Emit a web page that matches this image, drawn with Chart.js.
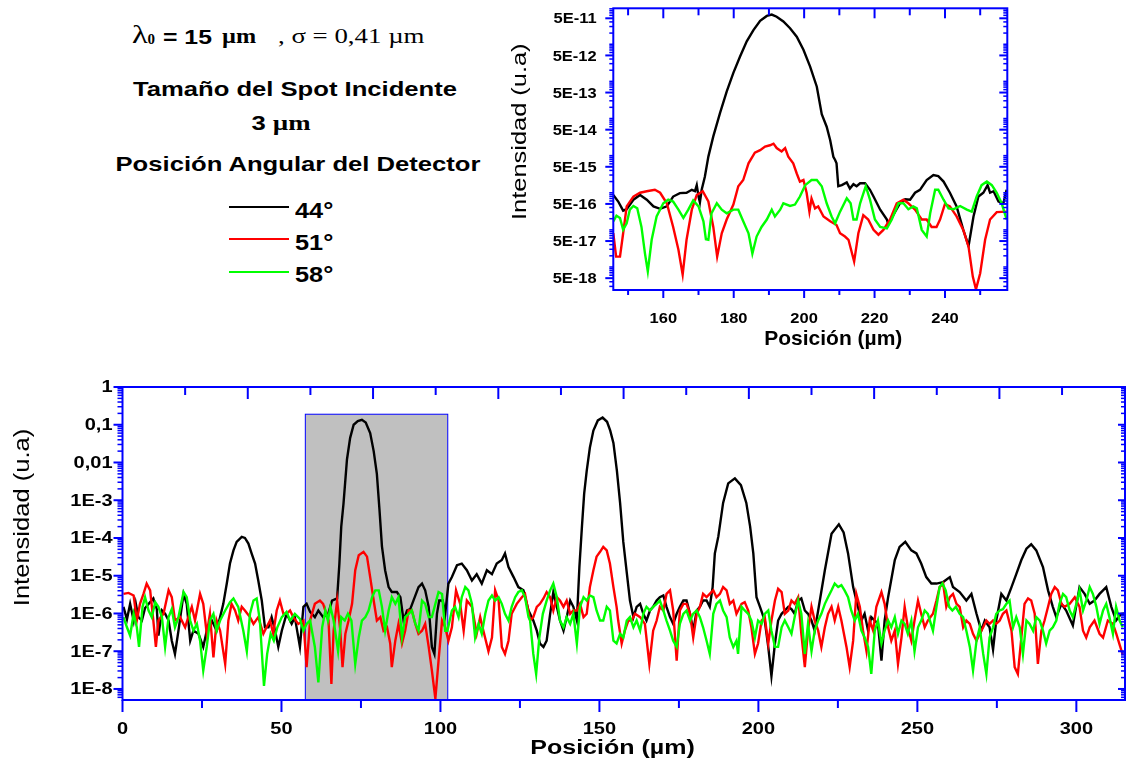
<!DOCTYPE html>
<html>
<head>
<meta charset="utf-8">
<script src="https://cdn.jsdelivr.net/npm/chart.js@4/dist/chart.umd.min.js"></script>
<style>
  body { margin: 0; background: #fff; width: 1126px; height: 762px; overflow: hidden; position: relative; }
  canvas { position: absolute; }
  .t { position: absolute; white-space: nowrap; line-height: 1; color: #000; transform-origin: 0 50%; }
  .sans { font-family: "Liberation Sans", Arial, sans-serif; font-weight: bold; }
  .serif { font-family: "Liberation Serif", "Times New Roman", serif; }
  .c { width: 600px; text-align: center; font: bold 21px "Liberation Sans", Arial, sans-serif; transform: scaleX(1.22); transform-origin: 50% 50%; }
  .mu { font: bold 22px "Liberation Serif", "Times New Roman", serif; }
  .lg { position: absolute; left: 229px; width: 60px; height: 2px; }
  .lab { left: 295px; font: bold 22px "Liberation Sans", Arial, sans-serif; transform: scaleX(1.15); }
</style>
</head>
<body>
<div class="t serif" style="left:132px;top:22px;font-size:25px;transform:scaleX(1.3)">λ</div>
<div class="t serif" style="left:147.5px;top:32px;font-size:15px;font-weight:bold">0</div>
<div class="t sans" style="left:163px;top:25.5px;font-size:21px;transform:scaleX(1.18)">= 15</div>
<div class="t serif" style="left:222px;top:25px;font-size:22px;font-weight:bold;transform:scaleX(1.1)">µm</div>
<div class="t serif" style="left:278px;top:25px;font-size:22px;transform:scaleX(1.22)">, σ = 0,41 µm</div>

<div class="t c" style="left:-5.5px;top:77px">Tamaño del Spot Incidente</div>
<div class="t c" style="left:-19.5px;top:109.5px">3 <span class="mu">µm</span></div>
<div class="t c" style="left:-2.5px;top:152px">Posición Angular del Detector</div>

<div class="lg" style="top:206px;background:#000000"></div>
<div class="lg" style="top:238px;background:#ff0000"></div>
<div class="lg" style="top:270.5px;background:#00ff00"></div>
<div class="t lab" style="top:197.5px">44°</div>
<div class="t lab" style="top:229.5px">51°</div>
<div class="t lab" style="top:261.5px">58°</div>

<canvas id="inset" width="520" height="350" style="left:500px;top:0"></canvas>
<canvas id="main" width="1126" height="392" style="left:0;top:370px"></canvas>

<script>
// ---- main panel: intensity vs position (µm) ----
const pos44 = [0.3,1.4,2.4,3.5,4.2,5,6.1,7.1,8.7,9.7,10.8,11.3,12.4,13.4,14.5,15.5,16.5,17.6,19.2,20.2,
  21.3,22.3,23.9,25.4,26.5,28.1,29.6,30.7,31.7,32.8,33.8,34.9,35.9,37.5,38.5,39.6,40.6,41.7,42.7,43.8,
  44.8,45.9,46.9,48,49,50.1,51.6,53.2,54.2,55.8,56.9,57.9,59,60.5,61.6,63.1,64.7,65.9,67.5,68.2,
  68.8,69.5,70.6,71.6,72.7,74,75.3,76.5,77.9,79,80,80.8,81.6,82.6,83.7,84.7,86.3,87.4,88.4,89.5,
  90.5,91.5,93.1,94.2,95.2,96.3,97.3,98.1,98.9,99.6,100.7,101.5,102.5,103.6,105.2,106.7,108.3,109.9,111.4,113,
  114.6,116.2,117.7,119.3,120.3,121.4,123,124.5,126.1,127.7,
  129.2,130.3,131.3,132.4,133.4,134.5,135.5,136.6,137.6,138.7,139.7,140.8,141.8,142.9,143.7,144.5,145.2,146,147,148.1,
  149.5,151,152.4,153.4,154.4,155.5,156.5,157.5,158.6,159.6,160.7,161.7,162.8,163.8,164.8,165.9,166.9,168,169,170.1,
  171.1,172.2,173.2,174.3,175.3,176.4,177.4,178.5,179.5,180.6,181.6,182.6,183.7,184.7,185.6,186.3,187.4,188.9,190.5,192.6,
  194.5,196.2,197.4,198.4,199.4,200.5,202,203.1,204.1,205.2,206.2,207.3,208.3,209.4,210.4,211.4,212.5,213.5,214.6,215.6,
  216.7,217.7,218.8,220.9,223,225.3,226.8,228.2,229.8,231.3,232.4,233.4,234.5,235.5,236.6,237.6,238.7,239.7,240.8,242.9,
  244.4,246.2,248.1,249.7,251.2,252.8,254.4,256,258.1,260.2,261.2,263.3,265.4,267,268.6,270.1,271.2,272.7,273.8,274.8,
  276.4,278,279.6,281.1,282.7,284.3,285.8,287.4,289.5,291.1,292.6,293.7,295.3,296.8,298.9,301,302.6,304.2,305.7,307.3,
  309.4,311,312.5,314.1,315.3];
const int44 = [1.5e-6,7e-7,1.8e-6,6.5e-7,1.8e-6,8e-7,6.5e-7,1.4e-6,2e-6,2.5e-6,1.3e-6,2.6e-7,1.2e-6,9.8e-7,6.5e-7,1.9e-7,8.5e-8,3.5e-7,3.3e-6,1.8e-6,
  1.9e-7,3.5e-7,2.9e-7,1.3e-7,3.5e-7,6.5e-7,3.5e-7,8e-7,1.8e-6,6.2e-6,2.1e-5,4.7e-5,7.9e-5,1.07e-4,1e-4,7.1e-5,3.9e-5,2.1e-5,7.5e-6,2.2e-6,
  4.3e-7,4.3e-7,8e-7,3.5e-7,1.3e-7,3.5e-7,9.8e-7,5.3e-7,8e-7,1.3e-7,1.5e-6,1.8e-6,1.1e-6,8e-7,1.2e-6,8e-7,9.8e-7,2.2e-6,2.5e-6,2e-5,
  2e-4,8e-4,0.012,0.045,0.1,0.125,0.135,0.115,0.06,0.02,5e-3,6e-4,6e-5,1.4e-5,5e-6,3.7e-6,3.7e-6,2.7e-6,6.5e-7,1.2e-6,
  1.3e-6,2.2e-6,5e-6,6.2e-6,4.1e-6,1.5e-6,1.3e-7,8.5e-8,9.8e-7,2.2e-6,2.2e-6,9.8e-7,6.2e-6,9.2e-6,1.9e-5,2.1e-5,1.4e-5,7.5e-6,1.1e-5,6.2e-6,
  1.4e-5,1.1e-5,2.1e-5,2.6e-5,3.9e-5,1.7e-5,9.2e-6,5e-6,4.1e-6,1.2e-6,
  6.5e-7,3.5e-7,1.6e-7,1.3e-7,1.9e-7,9.8e-7,3.7e-6,1.5e-6,6.5e-7,3.5e-7,8e-7,2.2e-6,1.5e-6,6.5e-7,1.7e-5,2e-4,1.5e-3,6e-3,0.025,0.07,
  0.13,0.155,0.12,0.07,0.033,6e-3,8.5e-4,8e-5,1.2e-5,2.2e-6,8e-7,1.5e-6,1.8e-6,9.8e-7,6.5e-7,1.2e-6,1.5e-6,2.2e-6,2.7e-6,3e-6,
  1.5e-6,8e-7,5.3e-7,9.8e-7,1.5e-6,2.2e-6,2.2e-6,9.8e-7,3.5e-7,1.2e-6,1.5e-6,2.2e-6,2.2e-6,1.5e-6,5e-6,3.9e-5,1.1e-4,8.5e-4,2.8e-3,3.8e-3,
  2.5e-3,8.5e-4,2e-4,3.9e-5,2.7e-6,1.5e-6,6.5e-7,1.3e-7,2.2e-8,1.6e-7,6.5e-7,9.8e-7,1.2e-6,1.5e-6,1.3e-6,9.8e-7,2.2e-6,2.5e-6,1.2e-6,9.8e-7,
  6.5e-7,3.5e-7,1.2e-6,1.4e-5,1.3e-4,2.3e-4,1.4e-4,3.9e-5,5e-6,1.5e-6,6.5e-7,9.8e-7,3.5e-7,8e-7,6.5e-7,5.3e-7,5.6e-8,6.5e-7,2.7e-6,2.6e-5,
  5.8e-5,7.9e-5,4.7e-5,3.9e-5,2.1e-5,9.2e-6,6.2e-6,6.2e-6,6.8e-6,9.2e-6,5e-6,3.7e-6,2.2e-6,3.3e-6,9.8e-7,3.5e-7,6.5e-7,4.3e-7,1.1e-7,6.5e-7,
  3.3e-6,2.2e-6,5e-6,1.1e-5,2.6e-5,5.2e-5,6.8e-5,4.7e-5,1.7e-5,4.1e-6,1.5e-6,8e-7,1.8e-6,1.2e-6,4.8e-7,5e-6,3.3e-6,1.8e-6,2.2e-6,3.3e-6,
  5e-6,1.5e-6,6.5e-7,9.8e-7,1e-6];

const pos51 = [0.3,1.9,3.5,4.5,5.5,6.6,7.6,8.7,9.7,10.5,11.3,12.9,14.5,15.5,16.5,18.1,19.7,20.7,21.8,22.8,
  24.4,25.4,26.5,27.5,28.6,29.6,30.7,32.3,33.3,34.3,35.4,36.4,37.5,38.5,40.1,41.2,42.7,44.3,45.3,46.4,
  47.4,48.5,49.5,50.6,51.6,52.7,53.7,55.3,56.9,57.9,59,60.5,62.1,63.1,
  64.8,65.7,66.4,67.5,68.5,69.2,70.1,71.1,72.2,73.2,74.3,75.8,76.9,77.9,79,80,81.1,82.1,83.2,84.2,
  84.7,85.8,86.8,87.9,88.9,90,91,92.1,93.1,94.2,95.2,96.3,97.3,98.4,99.4,100.5,101.5,102.5,103.6,104.9,
  106.2,107.3,108.3,109.9,111.4,112.5,113.5,115.1,116.2,117.2,118.3,119.3,120.3,121.4,122.4,124,125.6,126.6,
  128.2,129.2,130.3,131.3,132.4,133.4,134.5,135.5,136.6,137.6,138.7,139.7,140.8,141.8,142.9,143.9,145,146,147,148.1,
  149.1,150.2,151.2,152.3,153.3,154.4,155.4,155.9,157,158,159.1,160.1,161.2,162.8,164.3,165.7,166.9,168,169,170.1,
  171.1,172.2,173.2,174.3,175.3,176.4,177.4,178.5,179.5,180.6,181.6,182.6,183.7,184.7,185.8,186.8,187.9,188.9,190,191,
  192.1,193.1,
  194.7,195.7,196.8,197.8,198.9,199.9,201,202,203.1,204.1,205.2,206.2,207.3,208.3,209.4,210.4,211.4,212.5,213.5,214.6,
  215.6,216.7,217.7,218.8,219.8,220.9,221.9,223,224,225.1,226.1,227.7,228.7,229.8,230.8,231.9,232.9,234,235,236.1,
  237.1,238.7,239.7,240.8,241.8,242.9,243.9,245,246,247,248.1,249.1,250.2,251.2,252.3,253.3,
  254.9,256,257,258.1,259.1,260.2,261.2,262.3,263.3,264.4,265.4,266.5,267.5,268.6,269.6,270.7,271.7,272.7,273.8,274.8,
  275.9,276.9,278,279.6,280.6,281.6,282.7,283.7,284.8,285.8,286.9,287.9,289,290,291.1,292.1,293.2,294.2,295.3,296.3,
  297.9,299.5,301,302.1,303.1,304.2,305.7,307.3,308.4,309.9,311.5,312.5,313.6,314.6];
const int51 = [3.3e-6,3.5e-6,3e-6,6.5e-7,1.8e-6,3.3e-6,6.2e-6,4.1e-6,6.5e-7,1.3e-7,6.5e-7,9.8e-7,4.1e-6,2.7e-6,6.5e-7,8e-7,4.3e-7,8e-7,1.5e-6,6.5e-7,
  3.3e-6,1.8e-6,2.9e-7,9.8e-7,6.9e-8,6.5e-7,3.5e-7,4.6e-8,6.5e-7,1.8e-6,1.2e-6,6.5e-7,1.5e-6,1.2e-6,8e-7,5.3e-7,8e-7,2.9e-7,4.3e-7,6.5e-7,
  2.9e-7,1.2e-6,2.2e-6,9.8e-7,9.8e-7,1.2e-6,8e-7,5.3e-7,6.5e-7,3.8e-8,6.5e-7,1.8e-6,2.2e-6,1.8e-6,
  6.5e-7,1.35e-8,3.5e-7,2.2e-6,3.5e-7,3.8e-8,2.9e-7,6.5e-7,1.8e-6,1.4e-5,3.5e-5,4.3e-5,3.2e-5,9.2e-6,2.2e-6,6.5e-7,8e-7,3.5e-7,4.3e-7,1.6e-7,
  3.8e-8,1.9e-7,5.3e-7,1.6e-7,3.5e-7,1.2e-6,1.2e-6,5.3e-7,2.9e-7,3.5e-7,5.3e-7,1.3e-7,3.1e-8,5.5e-9,5.6e-8,6.5e-7,4.3e-7,1.9e-7,4.3e-7,4.1e-6,
  1.8e-6,3.5e-7,2.2e-6,1.5e-6,2.9e-7,8e-7,3.5e-7,1e-7,2.3e-7,4.1e-6,2.2e-6,1.3e-7,8.5e-8,1.9e-7,9.8e-7,1.8e-6,2.7e-6,3.3e-6,
  6.5e-7,8e-7,1.5e-6,1.8e-6,2.5e-6,3.7e-6,2.7e-6,1.2e-6,2.7e-6,2.2e-6,1.5e-6,2.2e-6,9.8e-7,1.2e-6,1.2e-6,1.8e-6,8e-7,9.8e-7,5e-6,1.4e-5,
  3.2e-5,4.3e-5,5.8e-5,4.7e-5,2.1e-5,5e-6,1.5e-6,6.5e-7,1.6e-7,3.5e-7,6.5e-7,6.5e-7,9.8e-7,8e-7,5.3e-7,4.6e-8,3.5e-7,6.5e-7,1.5e-6,1.2e-6,
  3.3e-6,4.1e-6,1.2e-6,5.6e-8,1.2e-6,1.8e-6,1.8e-6,9.8e-7,2.3e-7,9.8e-7,1.5e-6,3.3e-6,2.7e-6,3.3e-6,4.1e-6,2.7e-6,3.3e-6,5e-6,4.1e-6,1.8e-6,
  2.2e-6,9.8e-7,
  1.8e-6,2e-6,1.2e-6,4.3e-7,8.5e-8,1.6e-7,6.5e-7,8e-7,1.6e-7,6.5e-7,2.2e-6,4.5e-6,3.7e-6,9.8e-7,1.2e-6,2.2e-6,1.8e-6,2.7e-6,2.9e-7,3.8e-8,
  3.5e-7,1.5e-6,6.5e-7,3.5e-7,1.3e-7,4.3e-7,9.8e-7,1.5e-6,6.5e-7,1.5e-6,6.5e-7,1.3e-7,3.8e-8,1.9e-7,3.3e-6,1.5e-6,3.5e-7,1e-7,6.5e-7,3.5e-7,
  1.5e-6,3.7e-6,1.8e-6,4.3e-7,1.9e-7,3.5e-7,4.6e-8,2.3e-7,1.5e-6,4.3e-7,1.9e-7,6.5e-7,2.2e-6,9.8e-7,4.3e-7,6.5e-7,
  9.8e-7,2.2e-6,5e-6,6.2e-6,1.5e-6,2.7e-6,3.3e-6,1.8e-6,1.5e-6,4.3e-7,6.5e-7,5.3e-7,2.9e-7,1.9e-7,2.9e-7,4.3e-7,6.5e-7,5.3e-7,6.5e-7,5.3e-7,
  6.5e-7,9.8e-7,1.2e-6,3.5e-7,3.8e-8,2.5e-8,2.3e-7,1.8e-6,2.5e-6,2.2e-6,9.8e-7,4.6e-8,3.5e-7,6.5e-7,1.5e-6,3.3e-6,5e-6,4.1e-6,1.8e-6,1.5e-6,
  1.8e-6,2.7e-6,1.5e-6,3.5e-7,2.3e-7,4.3e-7,6.5e-7,2.9e-7,2.3e-7,6.5e-7,5.3e-7,3e-7,1.5e-7,8e-8];

const pos58 = [0.3,1.4,2.4,3.5,4.5,5.2,6.3,7.1,8.2,9.2,10.3,11.3,12.4,13.4,14.5,15.5,16.5,17.6,19.2,20.2,
  21.3,22.3,23.4,24.4,25.4,26.5,27.5,28.6,29.6,30.7,32.3,33.8,34.9,36.4,38,39.1,40.1,41.2,42.2,43.2,
  44.5,45.5,46.6,47.6,48.7,50.1,51.6,52.7,54.2,55.8,56.9,57.9,59,60.5,61.6,62.8,
  63.8,64.6,65.4,66.4,67.8,68.8,69.9,70.9,72,73.2,74.3,75.3,76.4,77.4,78.5,79.5,80.6,81.6,82.6,83.7,
  84.7,85.8,86.8,87.9,88.9,90,91,92.1,93.1,94.2,95.2,96.3,97.3,98.4,99.4,100.5,101.5,102.2,103.6,104.6,
  105.7,106.7,107.8,108.8,109.9,110.9,112,113,114.1,115.1,116.2,117.2,118.3,119.3,120.3,121.4,122.4,123.5,124.5,125.6,
  126.6,127.7,
  128.2,129.2,130.1,131.1,132.2,133.4,134.5,135.5,136.6,137.6,138.7,139.7,140.8,141.8,142.9,143.9,145,146,147,148.1,
  149.1,150.2,151.2,152.3,153.3,154.4,155.4,156.5,157.5,158.6,159.6,160.7,161.7,162.8,163.8,164.8,165.9,166.9,168,169,
  170.1,171.1,172.2,173.2,174.3,175.3,176.4,177.4,178.5,179.5,180.6,181.6,182.6,183.7,184.7,185.8,186.8,187.9,188.9,190,
  191,192.1,193.1,
  193.6,194.7,195.7,196.8,197.8,198.9,199.9,201,202,203.1,204.1,205.2,206.2,207.3,208.3,209.4,210.4,211.4,212.5,213.5,
  214.6,215.6,216.7,217.7,218.8,219.8,220.9,221.9,223,224,225.1,226.1,227.1,228.2,229.2,230.3,231.3,232.4,233.4,234.5,
  235.5,236.6,237.6,238.7,239.7,240.8,241.8,242.9,243.9,245,246,247,248.1,249.1,250.2,251.2,252.3,253.3,
  254.9,256,257,257.9,258.9,260,261,262.1,263.3,264.4,265.4,266.5,267.5,268.6,269.6,270.7,271.7,272.7,273.8,274.8,
  275.9,276.9,278,279,280.1,281.1,282.2,283.2,284.3,285.3,286.4,287.4,288.5,289.5,290.5,291.6,292.6,293.7,294.7,295.8,
  296.8,297.9,298.9,300,301,302.1,303.1,304.2,305.2,306.3,307.3,308.4,309.4,310.4,311.5,312.5,313.6,314.6];
const int58 = [8e-7,4.3e-7,2.6e-7,9.8e-7,4.3e-7,1.3e-7,1.5e-6,2.7e-6,1.2e-6,8e-7,2e-6,1.5e-6,8e-7,1.3e-7,8e-7,1.3e-6,4.3e-7,8e-7,3.7e-6,2.7e-6,
  6.5e-7,3.5e-7,5.3e-7,1.9e-7,3.1e-8,1.3e-7,6.5e-7,9.8e-7,3.5e-7,6.5e-7,1.2e-6,2e-6,2.5e-6,1.5e-6,3.5e-7,1e-7,9.8e-7,2.2e-6,2.5e-6,6.5e-7,
  1.2e-8,8.5e-8,2.9e-7,1.9e-7,4.3e-7,8e-7,1.1e-6,6.5e-7,9.8e-7,7.2e-7,3.5e-7,5.3e-7,6.5e-7,1.3e-7,1.5e-8,4.3e-7,
  1.2e-6,6.5e-7,1.5e-6,6.5e-7,1e-7,8e-7,6.5e-7,9.8e-7,6.5e-7,4.6e-8,2.3e-7,6.5e-7,8e-7,1.2e-6,2.7e-6,4.1e-6,4.1e-6,1.5e-6,3.5e-7,1.2e-6,
  2.7e-6,1.8e-6,2.7e-6,2.3e-7,8e-7,9.8e-7,1.2e-6,5.3e-7,3.5e-7,2.2e-6,1.8e-6,8e-7,8e-7,1.8e-6,3.7e-6,3.3e-6,3.5e-7,3.5e-7,1.2e-6,1.5e-6,
  8e-7,2.7e-6,5e-6,4.1e-6,1.8e-6,2.3e-7,5.3e-7,2.9e-7,9.8e-7,2.2e-6,3e-6,2.2e-6,2.7e-6,1.8e-6,9.8e-7,6.5e-7,1.5e-6,2.7e-6,3.7e-6,4.1e-6,
  2.7e-6,8e-7,
  6.5e-7,8.5e-8,2.5e-8,2.3e-7,9.8e-7,2.2e-6,4.1e-6,6.2e-6,2.7e-6,6.5e-7,4.3e-7,8e-7,5.3e-7,9.8e-7,1.6e-7,1.5e-6,2.7e-6,2.2e-6,3e-6,2.7e-6,
  1.2e-6,6.5e-7,6.5e-7,1.5e-6,1.2e-6,1.9e-7,1.6e-7,2.9e-7,2.3e-7,6.5e-7,8e-7,4.3e-7,6.5e-7,3.5e-7,9.8e-7,1.5e-6,1.2e-6,1.5e-6,1.8e-6,2.2e-6,
  1.2e-6,6.5e-7,3.5e-7,1.9e-7,1.3e-7,5.3e-7,9.8e-7,1.2e-6,6.5e-7,9.8e-7,1.2e-6,8e-7,4.3e-7,1.9e-7,8.5e-8,9.8e-7,1.8e-6,2.2e-6,1.2e-6,8e-7,
  2.3e-7,1.3e-7,1.9e-7,
  8.5e-8,1.5e-6,1.2e-6,9.8e-7,6.5e-7,2.3e-7,6.5e-7,5.3e-7,9.8e-7,1.2e-6,3.5e-7,1.3e-7,1.3e-7,4.3e-7,6.5e-7,4.3e-7,2.9e-7,8e-7,2.2e-6,9.8e-7,
  8.5e-8,5.3e-7,1e-7,3.5e-7,6.5e-7,9.8e-7,1.8e-6,2.7e-6,4.1e-6,6.2e-6,5e-6,5.6e-6,4.1e-6,2.7e-6,1.2e-6,6.5e-7,9.8e-7,3.5e-7,2.3e-7,1.3e-7,
  2.5e-8,3.5e-7,6.5e-7,1.6e-7,3.5e-7,6.5e-7,4.3e-7,8e-7,2.9e-7,6.5e-7,5.3e-7,2.9e-7,6.5e-7,1e-7,4.3e-7,6.5e-7,1.2e-6,9.8e-7,
  3.5e-7,1.5e-6,5e-6,6.2e-6,4.1e-6,1.5e-6,1.2e-6,1.5e-6,9.8e-7,8e-7,3.5e-7,1.3e-7,3.1e-8,1.9e-7,4.3e-7,8.5e-8,2.5e-8,2.3e-7,4.3e-7,9.8e-7,
  1.2e-6,1.3e-6,1.8e-6,2.2e-6,4.3e-7,8e-7,4.3e-7,8.5e-8,6.5e-7,5.3e-7,3.5e-7,8e-7,6.5e-7,3.5e-7,1.6e-7,3.5e-7,4.3e-7,6.5e-7,1.8e-6,3.3e-6,
  2.7e-6,1.2e-6,8e-7,1.8e-6,4.1e-6,1.2e-6,2.2e-6,5e-6,3.3e-6,1.5e-6,5.3e-7,1.2e-6,1.8e-6,8e-7,2.9e-7,1.5e-6,6.5e-7,4.3e-7];

const mainXTicks = [0, 50, 100, 150, 200, 250, 300];
const mainXMinor = [25, 75, 125, 175, 225, 275];
const mainYTicks = [1, 0.1, 0.01, 1e-3, 1e-4, 1e-5, 1e-6, 1e-7, 1e-8];
const mainYLabels = ['1', '0,1', '0,01', '1E-3', '1E-4', '1E-5', '1E-6', '1E-7', '1E-8'];
const zoomBand = { from: 57.5, to: 102.3, top: 0.19 };   // region shown in the inset

// ---- inset: zoom of the 150-255 µm region ----
const zoomPos44 = [145.8,147.2,148.6,149.6,151.5,153.4,155.3,157.2,159.1,161,162.8,164.7,166.6,168.1,169,169.5,170,170.4,170.9,171.8,
  172.8,174.2,176.1,178,179.9,181.8,183.7,185.6,187.5,189.4,190.8,192.2,194.1,196,197.9,199.8,201.7,203.6,205,206.4,
  207.4,208.3,208.8,209.2,209.7,210.7,212.1,213,214,214.9,215.9,217.3,218.7,219.7,221.6,223.5,223.9,225.3,227.2,228.7,
  230.1,231.5,232.9,234.8,236.7,238.1,239.6,241.4,243.3,245.2,246.7,248.1,249.5,250.9,252.1,252.8,253.8,255.2,256.6,257.5];
const zoomInt44 = [8.7e-16,5.8e-16,3.3e-16,3.6e-16,6.5e-16,8.7e-16,6.5e-16,4.3e-16,3.7e-16,4.3e-16,7.9e-16,9.8e-16,1e-15,1.2e-15,1.1e-15,1.6e-15,7.9e-16,5.5e-16,1.2e-15,2.7e-15,
  9.4e-15,3.3e-14,1.4e-13,5.3e-13,1.7e-12,4.7e-12,1.2e-11,2.4e-11,4.3e-11,5.8e-11,6.3e-11,5.5e-11,4.1e-11,2.7e-11,1.6e-11,7.1e-12,2.5e-12,7.2e-13,1.3e-13,6e-14,
  2.6e-14,9.3e-15,7.6e-15,6.2e-15,1.5e-15,1.6e-15,1.9e-15,1.3e-15,1.7e-15,1.5e-15,1.8e-15,1.8e-15,1.2e-15,7.9e-16,3.5e-16,1.9e-16,1.4e-16,2.5e-16,5.2e-16,6.7e-16,
  6.5e-16,1e-15,1.2e-15,2.2e-15,3e-15,2.8e-15,2e-15,1e-15,4.3e-16,1e-16,3.7e-17,2.3e-16,7.9e-16,1e-15,1.6e-15,1e-15,1.1e-15,5.8e-16,5.2e-16,1.2e-15];

const zoomPos51 = [145.8,146.6,147.7,148.6,149.6,151.5,153.4,155.3,157.6,159.1,161,162.8,164.3,165.5,166.6,168.1,169.5,171.2,172.8,174.2,
  175.3,176.6,178,179.9,181.3,182.7,184.2,186,187.5,188.9,190.3,191.3,192.2,193.6,194.6,195.5,196.9,197.9,198.8,199.8,
  200.7,201.5,202.1,203.1,204,205.5,207.4,209.2,210.2,211.6,212.6,214.2,215.4,216.8,218.2,219.7,221.1,222.5,224.4,226.3,
  228.2,229.6,231.5,233.4,234.8,236.2,237.6,238.6,240,241.4,243.3,245.2,246.7,247.9,248.8,250,251.4,252.8,254.7,257.5];
const zoomInt51 = [8.1e-17,1.9e-17,1.9e-17,8.1e-17,4.3e-16,7.9e-16,1e-15,1.1e-15,1.2e-15,1e-15,5.2e-16,1.2e-16,2.9e-17,6.2e-18,5.4e-17,3.5e-16,8.7e-16,1.1e-15,5.8e-16,1.2e-16,
  1.9e-17,8.1e-17,1.9e-16,4.8e-16,1.5e-15,2.2e-15,6.2e-15,1.2e-14,1.4e-14,1.75e-14,1.9e-14,2.1e-14,1.6e-14,1.3e-14,1.6e-14,9.4e-15,6.2e-15,3.3e-15,2e-15,2.2e-15,
  1e-15,3.1e-16,7e-16,3.8e-16,4.3e-16,2.3e-16,1.7e-16,1.35e-16,8.1e-17,6.6e-17,5.4e-17,1.4e-17,8.1e-17,2.5e-16,1.9e-16,1e-16,7.4e-17,1e-16,1.9e-16,5.2e-16,
  6.5e-16,5.2e-16,3.5e-16,1.9e-16,1.9e-16,1.2e-16,1.2e-16,1.9e-16,5e-16,4.3e-16,2.3e-16,1e-16,3.5e-17,5.5e-18,2.5e-18,6.8e-18,5.4e-17,1.9e-16,3e-16,3.1e-16];

const zoomPos58 = [145.8,146.7,147.7,148.6,149.6,150.5,151.5,152.6,153.8,154.8,155.6,156.7,158.1,160,161.4,162.8,164.3,165.7,167.1,168.5,
  170,171.4,172.1,172.8,173.7,175.2,176.6,178,179.9,181.3,182.7,184.2,185.3,186.5,187.9,189.4,190.8,191.7,193.2,194.1,
  196,197.4,198.8,200.3,202.1,203.6,205,206.4,207.8,208.8,210.2,212.1,213.2,214,214.9,215.9,217.5,218.7,220.1,221.6,
  223.5,224.9,226.8,228.2,229.6,231,232,233.4,234.8,235.8,237.2,238.1,239.6,241,242.4,244.3,246.2,247.6,249,250.4,
  251.9,253.3,254.7,256.1,257.5];
const zoomInt58 = [1.7e-16,2.4e-16,2.1e-16,1e-16,1.5e-16,3.5e-16,4.4e-16,3.8e-16,1.2e-16,2.3e-17,7.6e-18,5.4e-17,2.3e-16,5.2e-16,6.5e-16,5.8e-16,3.5e-16,2.1e-16,3.5e-16,6.2e-16,
  4.3e-16,1.7e-16,5.6e-17,5.4e-17,2.8e-16,5.2e-16,3.5e-16,2.8e-16,3.5e-16,3.5e-16,1.7e-16,8.1e-17,2.3e-17,6.6e-17,1.2e-16,1.9e-16,3.5e-16,2.3e-16,3.5e-16,5.2e-16,
  4.4e-16,4.8e-16,7.9e-16,1.6e-15,2.2e-15,2.2e-15,1.5e-15,5.2e-16,2.3e-16,1.5e-16,3.1e-16,7.1e-16,5.2e-16,1.9e-16,1.9e-16,5.2e-16,1.5e-15,6.5e-16,1.9e-16,1.2e-16,
  1.1e-16,1.9e-16,5.2e-16,5.2e-16,3.6e-16,4.3e-16,3.8e-16,1e-16,6.6e-17,2.8e-16,1.2e-15,1.2e-15,6.5e-16,3.8e-16,3.6e-16,4.4e-16,3.5e-16,3.1e-16,7.9e-16,1.6e-15,
  2e-15,1.6e-15,1e-15,5.2e-16,1.9e-16];

const insetXTicks = [160, 180, 200, 220, 240];
const insetXMinor = [150, 170, 190, 210, 230, 250];
const insetYTicks = [5e-11, 5e-12, 5e-13, 5e-14, 5e-15, 5e-16, 5e-17, 5e-18];
const insetYLabels = ['5E-11', '5E-12', '5E-13', '5E-14', '5E-15', '5E-16', '5E-17', '5E-18'];

const AXIS_BLUE = '#0000ff';
const SANS = '"Liberation Sans", Arial, sans-serif';

const pts = (xs, ys) => xs.map((x, i) => ({ x: x, y: ys[i] }));

function drawText(ctx, str, x, y, font, sx, align, base, angle) {
  ctx.save();
  ctx.translate(x, y);
  if (angle) ctx.rotate(angle);
  ctx.scale(sx, 1);
  ctx.font = font;
  ctx.textAlign = align;
  ctx.textBaseline = base;
  ctx.fillStyle = '#000';
  ctx.fillText(str, 0, 0);
  ctx.restore();
}

function logMinors(scale, majors) {
  const out = [];
  const lo = Math.floor(Math.log10(scale.min)), hi = Math.ceil(Math.log10(scale.max));
  for (let e = lo; e <= hi; e++) {
    for (let m = 1; m <= 9; m++) {
      const v = m * Math.pow(10, e);
      if (v < scale.min || v > scale.max) continue;
      if (majors.some(t => Math.abs(t - v) / v < 1e-6)) continue;
      out.push(v);
    }
  }
  return out;
}

// Origin-style frame: blue box, ticks on all four sides, stretched bold labels
function originFrame(cfg) {
  return {
    id: 'originFrame',
    beforeDatasetsDraw(chart) {
      if (!cfg.band) return;
      const { ctx, chartArea: a } = chart;
      const xs = chart.scales.x, ys = chart.scales.y;
      const l = xs.getPixelForValue(cfg.band.from), r = xs.getPixelForValue(cfg.band.to);
      const t = ys.getPixelForValue(cfg.band.top);
      ctx.save();
      ctx.fillStyle = '#c0c0c0';
      ctx.fillRect(l, t, r - l, a.bottom - t);
      ctx.strokeStyle = AXIS_BLUE;
      ctx.lineWidth = 1;
      ctx.strokeRect(l, t, r - l, a.bottom - t);
      ctx.restore();
    },
    afterDatasetsDraw(chart) {
      const { ctx, chartArea: a } = chart;
      const xs = chart.scales.x, ys = chart.scales.y;
      const seg = (x1, y1, x2, y2) => { ctx.beginPath(); ctx.moveTo(x1, y1); ctx.lineTo(x2, y2); ctx.stroke(); };
      ctx.save();
      ctx.strokeStyle = AXIS_BLUE;
      ctx.lineWidth = 2;

      cfg.x.major.forEach(v => { const p = xs.getPixelForValue(v); seg(p, a.bottom, p, a.bottom + cfg.x.len[0]); });
      cfg.x.minor.forEach(v => { const p = xs.getPixelForValue(v); seg(p, a.bottom, p, a.bottom + cfg.x.len[1]); });
      cfg.top.major.forEach(v => { const p = xs.getPixelForValue(v); seg(p, a.top, p, a.top + cfg.top.len[0]); });
      cfg.top.minor.forEach(v => { const p = xs.getPixelForValue(v); seg(p, a.top, p, a.top + cfg.top.len[1]); });

      cfg.y.major.forEach(v => {
        const p = ys.getPixelForValue(v);
        seg(a.left - cfg.y.out[0], p, a.left, p);
        seg(a.right - cfg.y.in[0], p, a.right, p);
      });
      ctx.lineWidth = 1.5;
      logMinors(ys, cfg.y.major).forEach(v => {
        const p = ys.getPixelForValue(v);
        seg(a.left - cfg.y.out[1], p, a.left, p);
        seg(a.right - cfg.y.in[1], p, a.right, p);
      });

      ctx.lineWidth = 2;
      ctx.strokeRect(a.left, a.top, a.right - a.left, a.bottom - a.top);

      cfg.x.major.forEach((v, i) => drawText(ctx, cfg.x.labels[i], xs.getPixelForValue(v), a.bottom + cfg.x.labelDy,
        cfg.tickFont, cfg.tickStretch, 'center', 'alphabetic'));
      cfg.y.major.forEach((v, i) => drawText(ctx, cfg.y.labels[i], a.left - cfg.y.labelDx, ys.getPixelForValue(v) + 1,
        cfg.tickFont, cfg.tickStretch, 'right', 'middle'));

      const xt = cfg.xTitle, yt = cfg.yTitle;
      drawText(ctx, xt.text, xt.x, xt.y, xt.font, xt.sx, 'center', 'alphabetic');
      drawText(ctx, yt.text, yt.x, yt.y, yt.font, yt.sx, 'center', 'alphabetic', -Math.PI / 2);
      ctx.restore();
    }
  };
}

const topStep = 19.7;
const mainTopMajor = [], mainTopMinor = [];
for (let k = 1; k * topStep < 315; k++) (k % 2 ? mainTopMinor : mainTopMajor).push(k * topStep);

const lineDefaults = { pointRadius: 0, borderWidth: 2.4, tension: 0, fill: false };

new Chart(document.getElementById('main'), {
  type: 'line',
  data: {
    datasets: [
      { label: '44°', data: pts(pos44, int44), borderColor: '#000000', order: 3, ...lineDefaults },
      { label: '51°', data: pts(pos51, int51), borderColor: '#ff0000', order: 2, ...lineDefaults },
      { label: '58°', data: pts(pos58, int58), borderColor: '#00ff00', order: 1, ...lineDefaults }
    ]
  },
  options: {
    responsive: false,
    animation: false,
    layout: { padding: { left: 122.5, right: 1, top: 17, bottom: 62 } },
    scales: {
      x: { type: 'linear', min: 0, max: 315.3, display: false },
      y: { type: 'logarithmic', min: 5.1e-9, max: 1, display: false }
    },
    plugins: { legend: { display: false }, tooltip: { enabled: false } }
  },
  plugins: [originFrame({
    band: zoomBand,
    x: { major: mainXTicks, minor: mainXMinor, labels: mainXTicks.map(String), len: [12, 8], labelDy: 34 },
    top: { major: mainTopMajor, minor: mainTopMinor, len: [12, 8] },
    y: { major: mainYTicks, labels: mainYLabels, out: [9, 5], in: [7, 4], labelDx: 10 },
    tickFont: '700 16px ' + SANS,
    tickStretch: 1.25,
    xTitle: { text: 'Posición (µm)', x: 612.5, y: 384, font: '700 20px ' + SANS, sx: 1.25 },
    yTitle: { text: 'Intensidad (u.a)', x: 28.5, y: 147.5, font: '400 22px ' + SANS, sx: 1.16 }
  })]
});

new Chart(document.getElementById('inset'), {
  type: 'line',
  data: {
    datasets: [
      { label: '44°', data: pts(zoomPos44, zoomInt44), borderColor: '#000000', order: 3, ...lineDefaults },
      { label: '51°', data: pts(zoomPos51, zoomInt51), borderColor: '#ff0000', order: 2, ...lineDefaults },
      { label: '58°', data: pts(zoomPos58, zoomInt58), borderColor: '#00ff00', order: 1, ...lineDefaults }
    ]
  },
  options: {
    responsive: false,
    animation: false,
    layout: { padding: { left: 113.3, right: 12.7, top: 8.3, bottom: 60 } },
    scales: {
      x: { type: 'linear', min: 145.8, max: 257.7, display: false },
      y: { type: 'logarithmic', min: 2.4e-18, max: 9.3e-11, display: false }
    },
    plugins: { legend: { display: false }, tooltip: { enabled: false } }
  },
  plugins: [originFrame({
    x: { major: insetXTicks, minor: insetXMinor, labels: insetXTicks.map(String), len: [8, 5], labelDy: 33.3 },
    top: { major: insetXTicks, minor: insetXMinor, len: [10, 7] },
    y: { major: insetYTicks, labels: insetYLabels, out: [8, 4], in: [8, 4], labelDx: 16.6 },
    tickFont: '700 15px ' + SANS,
    tickStretch: 1.1,
    xTitle: { text: 'Posición (µm)', x: 333.3, y: 345, font: '700 21px ' + SANS, sx: 1.0 },
    yTitle: { text: 'Intensidad (u.a)', x: 26, y: 131.7, font: '400 20px ' + SANS, sx: 1.27 }
  })]
});
</script>
</body>
</html>
